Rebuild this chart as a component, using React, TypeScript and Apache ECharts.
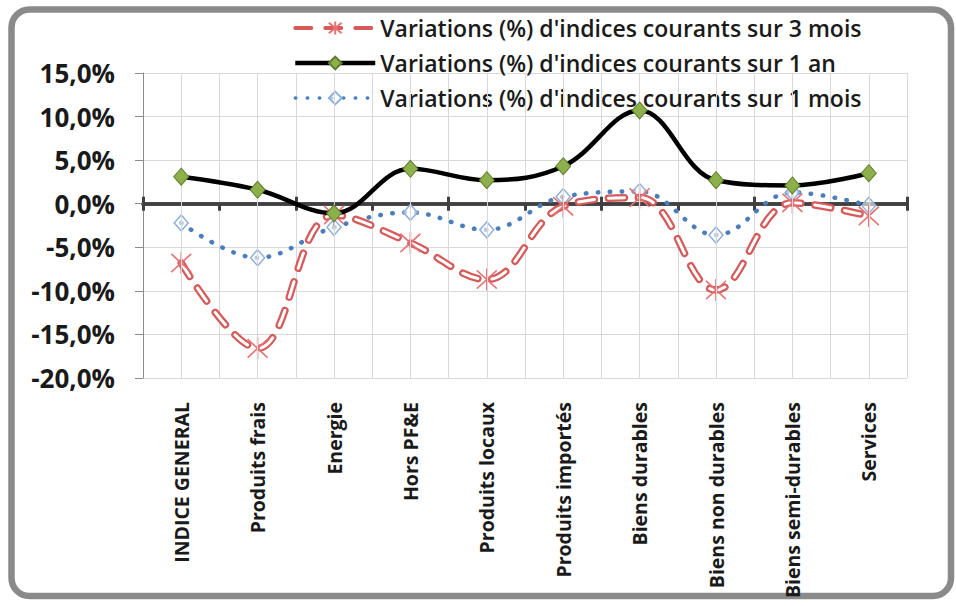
import React, { useEffect, useRef } from "react";
import * as echarts from "echarts";

const categories = [
  "INDICE GENERAL",
  "Produits frais",
  "Energie",
  "Hors PF&E",
  "Produits locaux",
  "Produits importés",
  "Biens durables",
  "Biens non durables",
  "Biens semi-durables",
  "Services",
];
const var3Mois = [-6.8, -16.6, -1.3, -4.5, -8.7, -0.3, 0.7, -9.9, 0.1, -1.4];
const var1An = [3.1, 1.6, -1.1, 4.0, 2.7, 4.3, 10.7, 2.7, 2.1, 3.5];
const var1Mois = [-2.2, -6.2, -2.7, -1.0, -3.0, 0.8, 1.4, -3.6, 1.3, -0.2];

const name3 = "Variations (%) d'indices courants sur 3 mois";
const name1an = "Variations (%) d'indices courants sur 1 an";
const name1m = "Variations (%) d'indices courants sur 1 mois";

const FONT = "'Open Sans', 'Noto Sans', sans-serif";
const asterisk = "path://M0,1L10,11M10,1L0,11M5,0L5,12";

export default function App() {
  const ref = useRef<HTMLDivElement>(null);
  useEffect(() => {
    document.body.style.margin = "0";
    const chart = echarts.init(ref.current!, null, { renderer: "svg" });
    const smooth = 0.38;
    chart.setOption({
      animation: false,
      backgroundColor: "#ffffff",
      graphic: [
        {
          type: "rect",
          z: -10,
          shape: { x: 11.5, y: 9.5, width: 939.5, height: 586.5, r: 18 },
          style: { fill: "#ffffff", stroke: "#8a8a8a", lineWidth: 6.5 },
          silent: true,
        },
      ],
      legend: {
        orient: "vertical",
        left: 288,
        top: 10,
        padding: 5,
        itemWidth: 80,
        itemHeight: 16,
        itemGap: 9,
        data: [
          { name: name3, lineStyle: { width: 4 } },
          { name: name1an, lineStyle: { width: 4.5 } },
          { name: name1m, lineStyle: { width: 3.5 } },
        ],
        textStyle: {
          fontFamily: FONT,
          fontSize: 23,
          fontWeight: 600,
          color: "#1a1a1a",
          lineHeight: 26,
        },
      },
      grid: {
        left: 143,
        right: 49,
        top: 73,
        bottom: 228,
        containLabel: false,
        outerBoundsMode: "none",
      },
      xAxis: [
        {
          type: "category",
          data: categories,
          position: "bottom",
          boundaryGap: true,
          axisLine: { onZero: true, onZeroAxisIndex: 0, lineStyle: { color: "#404040", width: 3.5 } },
          axisTick: { show: true, length: 7, lineStyle: { color: "#404040", width: 3 } },
          splitLine: { show: true, lineStyle: { color: "#d9d9d9", width: 1 } },
          axisLabel: {
            rotate: 90,
            margin: 24,
            interval: 0,
            fontFamily: FONT,
            fontSize: 19.5,
            fontWeight: "bold",
            color: "#1a1a1a",
          },
        },
        {
          type: "category",
          data: categories,
          position: "top",
          boundaryGap: true,
          axisLine: { onZero: true, onZeroAxisIndex: 0, lineStyle: { color: "#404040", width: 3.5 } },
          axisTick: { show: true, length: 7, lineStyle: { color: "#404040", width: 3 } },
          splitLine: { show: false },
          axisLabel: { show: false },
        },
      ],
      yAxis: {
        type: "value",
        min: -20,
        max: 15,
        interval: 5,
        axisLine: { show: true, onZero: false, lineStyle: { color: "#8c8c8c", width: 1 } },
        axisTick: { show: true, length: 8, lineStyle: { color: "#8c8c8c" } },
        splitLine: { show: true, lineStyle: { color: "#d9d9d9", width: 1 } },
        axisLabel: {
          margin: 28,
          fontFamily: FONT,
          fontSize: 26,
          fontWeight: "bold",
          color: "#1a1a1a",
          formatter: (v: number) => v.toFixed(1).replace(".", ",") + "%",
        },
      },
      series: [
        {
          name: "grid-centers",
          type: "line",
          data: [],
          z: 1,
          silent: true,
          markLine: {
            silent: true,
            symbol: ["none", "none"],
            label: { show: false },
            lineStyle: { color: "#d9d9d9", width: 1, type: "solid" },
            data: categories.map((c) => ({ xAxis: c })),
          },
        },
        {
          name: name1m,
          type: "line",
          data: var1Mois,
          smooth,
          z: 3,
          symbol: "diamond",
          symbolSize: [14, 16],
          lineStyle: { color: "#4a7ebb", width: 4.5, type: [0.5, 11.5], cap: "round" },
          itemStyle: { color: "rgba(255,255,255,0.6)", borderColor: "#8fb0dc", borderWidth: 1.5 },
        },
        {
          name: name3,
          type: "line",
          data: var3Mois,
          smooth,
          z: 4,
          symbol: asterisk,
          symbolSize: [20, 22],
          lineStyle: { color: "#d55a5a", width: 7.5, type: [16, 14], cap: "round" },
          itemStyle: { color: "rgba(0,0,0,0)", borderColor: "#e57373", borderWidth: 1.6 },
        },
        {
          name: "inner-3m",
          type: "line",
          data: var3Mois,
          smooth,
          z: 4,
          silent: true,
          symbol: "none",
          lineStyle: { color: "#ffffff", width: 3, type: [16, 14], cap: "round" },
        },
        {
          name: name1an,
          type: "line",
          data: var1An,
          smooth,
          z: 5,
          symbol: "diamond",
          symbolSize: [15, 17],
          lineStyle: { color: "#000000", width: 4.5 },
          itemStyle: { color: "#8db04a", borderColor: "#5f7d2e", borderWidth: 1 },
        },
      ],
    });
    return () => chart.dispose();
  }, []);
  return <div ref={ref} style={{ width: 956, height: 606 }} />;
}
